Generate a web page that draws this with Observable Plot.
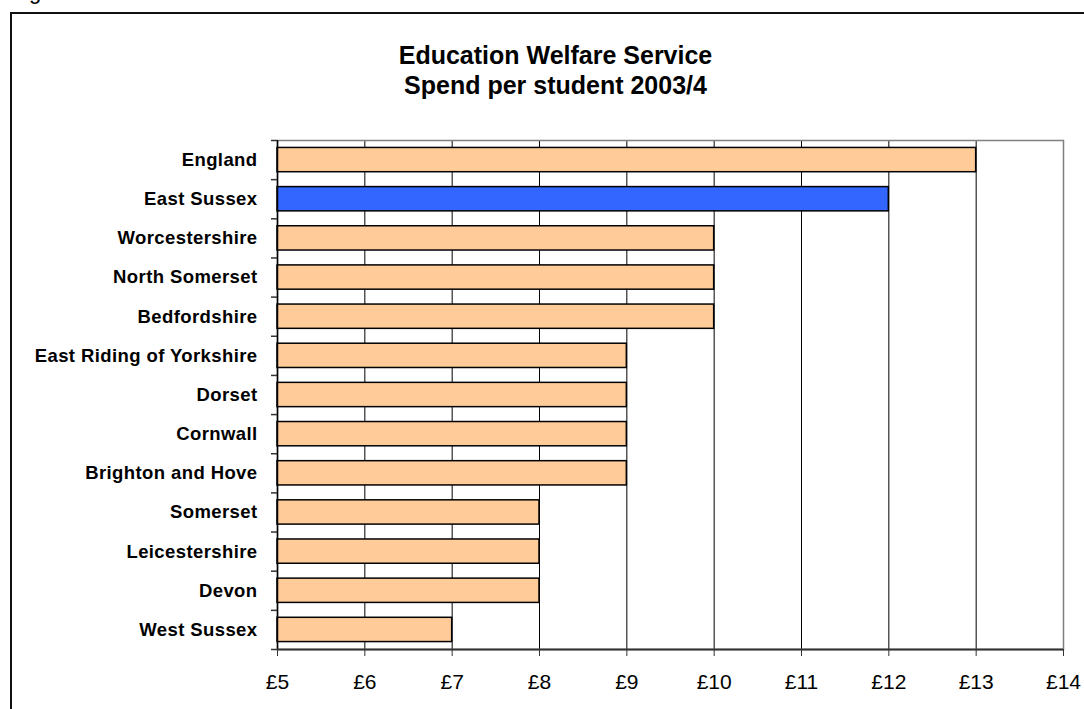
<!DOCTYPE html>
<html>
<head>
<meta charset="utf-8">
<script src="https://cdn.jsdelivr.net/npm/d3@7"></script>
<script src="https://cdn.jsdelivr.net/npm/@observablehq/plot@0.6"></script>
<style>
  html, body { margin: 0; padding: 0; background: white; }
  #wrap { position: relative; width: 1084px; height: 709px; overflow: hidden; font-family: "Liberation Sans", Arial, sans-serif; }
  #frame { position: absolute; left: 10px; top: 12px; width: 1200px; height: 900px; border: 2px solid #111; box-sizing: border-box; pointer-events: none; z-index: 3; }
  #title { position: absolute; left: 0; top: 40px; width: 1111px; text-align: center; font-weight: bold; font-size: 25px; line-height: 30px; color: #000; z-index: 2; }
  #cut { position: absolute; left: 29px; top: -19px; font-size: 22px; line-height: 22px; color: #000; }
  #chart { position: absolute; left: 0; top: 0; z-index: 1; }
  #chart svg { background: transparent !important; }
  #chart svg text.lab { letter-spacing: 0.4px; }
</style>
</head>
<body>
<div id="wrap">
  <div id="cut">g</div>
  <div id="chart"></div>
  <div id="title">Education Welfare Service<br>Spend per student 2003/4</div>
  <div id="frame"></div>
</div>
<script>
const categories = ["England", "East Sussex", "Worcestershire", "North Somerset", "Bedfordshire", "East Riding of Yorkshire", "Dorset", "Cornwall", "Brighton and Hove", "Somerset", "Leicestershire", "Devon", "West Sussex"];
const values = [13, 12, 10, 10, 10, 9, 9, 9, 9, 8, 8, 8, 7];
const highlight = "East Sussex";
const xTicks = [5, 6, 7, 8, 9, 10, 11, 12, 13, 14];
const xMin = 5;

const data = categories.map((name, i) => ({name, value: values[i], i}));
const bandEdges = d3.range(0, categories.length + 1);

const chart = Plot.plot({
  width: 1084,
  height: 709,
  marginLeft: 277,
  marginRight: 21,
  marginTop: 140,
  marginBottom: 60,
  style: {fontFamily: "'Liberation Sans', Arial, sans-serif", background: "transparent", color: "black"},
  x: {domain: [5, 14], label: null},
  y: {domain: [0, categories.length], reverse: true, label: null},
  marks: [
    Plot.gridX(xTicks, {stroke: "black", strokeOpacity: 1, strokeWidth: 1}),
    Plot.frame({stroke: "#808080", strokeWidth: 1.5}),
    Plot.rectX(data, {
      x1: xMin,
      x2: "value",
      y1: d => d.i + 0.19,
      y2: d => d.i + 0.81,
      fill: d => d.name === highlight ? "#3366FF" : "#FFCC99",
      stroke: "black",
      strokeWidth: 1.5
    }),
    Plot.ruleX([xMin], {stroke: "black", strokeWidth: 1.5}),
    Plot.ruleY([categories.length], {stroke: "#333", strokeWidth: 2}),
    Plot.axisY(bandEdges, {tickFormat: () => "", tickSize: 6, stroke: "#333", strokeWidth: 1.5}),
    Plot.text(data, {
      x: xMin,
      y: d => d.i + 0.5,
      text: "name",
      textAnchor: "end",
      dx: -20,
      fontWeight: "bold",
      fontSize: 18.5,
      fill: "black",
      className: "lab"
    }),
    Plot.axisX(xTicks, {
      tickFormat: d => "£" + d,
      tickSize: 7,
      tickPadding: 18,
      fontSize: 21,
      stroke: "#333",
      fill: "black"
    })
  ]
});
chart.querySelectorAll("g.lab text, .lab text").forEach(t => t.setAttribute("letter-spacing", "0.4"));
document.getElementById("chart").appendChild(chart);
</script>
</body>
</html>
